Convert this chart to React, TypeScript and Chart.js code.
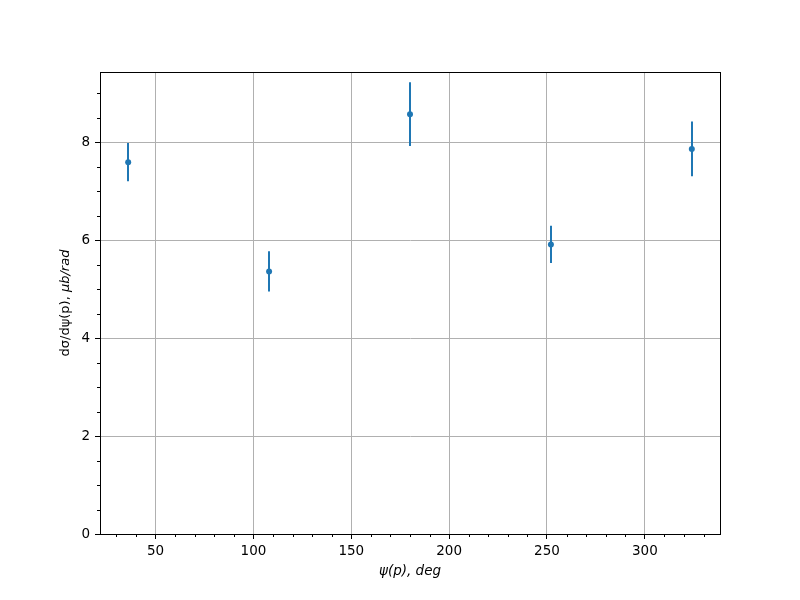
import React, { useEffect, useRef } from "react";
import { Chart, registerables } from "chart.js";

Chart.register(...registerables);

const psiDeg = [36, 108, 180, 252, 324];
const dSigma = [7.59, 5.36, 8.57, 5.91, 7.86];
const dSigmaErr = [0.39, 0.41, 0.65, 0.38, 0.56];

const xTicks = [50, 100, 150, 200, 250, 300];
const xMinorTicks = [30, 40, 60, 70, 80, 90, 110, 120, 130, 140, 160, 170, 180, 190, 210, 220, 230, 240, 260, 270, 280, 290, 310, 320, 330];
const yTicks = [0, 2, 4, 6, 8];
const yMinorTicks = [0.5, 1, 1.5, 2.5, 3, 3.5, 4.5, 5, 5.5, 6.5, 7, 7.5, 8.5, 9];

const xRange = [21.6, 338.4];
const yRange = [0, 9.43];

const BLUE = "#1f77b4";
const FONT = "'DejaVu Sans', sans-serif";

const overlayPlugin = {
  id: "overlay",
  beforeDatasetsDraw(chart: any) {
    const { ctx, scales } = chart;
    const xs = scales.x;
    const ys = scales.y;
    ctx.save();
    ctx.strokeStyle = BLUE;
    ctx.lineWidth = 2;
    for (let i = 0; i < psiDeg.length; i++) {
      const px = Math.round(xs.getPixelForValue(psiDeg[i]));
      ctx.beginPath();
      ctx.moveTo(px, ys.getPixelForValue(dSigma[i] - dSigmaErr[i]));
      ctx.lineTo(px, ys.getPixelForValue(dSigma[i] + dSigmaErr[i]));
      ctx.stroke();
    }
    ctx.restore();
  },
  afterDraw(chart: any) {
    const { ctx, chartArea, scales } = chart;
    const xs = scales.x;
    const ys = scales.y;
    ctx.save();
    ctx.strokeStyle = "#000";
    ctx.lineWidth = 1;
    ctx.beginPath();
    for (const v of xMinorTicks) {
      const px = Math.round(xs.getPixelForValue(v)) + 0.5;
      ctx.moveTo(px, chartArea.bottom);
      ctx.lineTo(px, chartArea.bottom + 3);
    }
    for (const v of yMinorTicks) {
      const py = Math.round(ys.getPixelForValue(v)) + 0.5;
      ctx.moveTo(chartArea.left, py);
      ctx.lineTo(chartArea.left - 3, py);
    }
    ctx.stroke();
    ctx.strokeRect(
      Math.round(chartArea.left) + 0.5,
      Math.round(chartArea.top) + 0.5,
      Math.round(chartArea.right - chartArea.left),
      Math.round(chartArea.bottom - chartArea.top)
    );
    const part1 = "dσ/dψ(p), ";
    const part2 = "μb/rad";
    ctx.fillStyle = "#000";
    ctx.textBaseline = "middle";
    ctx.textAlign = "left";
    const f1 = "13px " + FONT;
    const f2 = "italic 13px " + FONT;
    ctx.font = f1;
    const w1 = ctx.measureText(part1).width;
    ctx.font = f2;
    const w2 = ctx.measureText(part2).width;
    const cx = 66;
    const cy = (chartArea.top + chartArea.bottom) / 2;
    ctx.translate(cx, cy);
    ctx.rotate(-Math.PI / 2);
    const start = -(w1 + w2) / 2;
    ctx.font = f1;
    ctx.fillText(part1, start, 0);
    ctx.font = f2;
    ctx.fillText(part2, start + w1, 0);
    ctx.restore();
  },
};

export default function App() {
  const canvasRef = useRef<HTMLCanvasElement | null>(null);

  useEffect(() => {
    document.body.style.margin = "0";
    const canvas = canvasRef.current;
    if (!canvas) return;
    const chart = new Chart(canvas, {
      type: "scatter",
      data: {
        datasets: [
          {
            data: psiDeg.map((x, i) => ({ x, y: dSigma[i] })),
            backgroundColor: BLUE,
            borderColor: BLUE,
            pointRadius: 3,
            pointBorderWidth: 0,
          },
        ],
      },
      options: {
        animation: false,
        responsive: false,
        devicePixelRatio: 1,
        layout: { padding: { left: 0, right: 80, top: 72, bottom: 20 } },
        plugins: {
          legend: { display: false },
          tooltip: { enabled: false },
        },
        scales: {
          x: {
            type: "linear",
            min: xRange[0],
            max: xRange[1],
            afterBuildTicks: (s: any) => {
              s.ticks = xTicks.map((v) => ({ value: v }));
            },
            afterFit: (s: any) => {
              s.height = 46;
            },
            ticks: {
              color: "#000",
              font: { family: FONT, size: 13.5 },
              padding: 4,
              maxRotation: 0,
              autoSkip: false,
            },
            grid: {
              color: "#b0b0b0",
              lineWidth: 1,
              tickColor: "#000",
              tickLength: 5,
            },
            border: { display: true, color: "#000", width: 1 },
            title: {
              display: true,
              text: "ψ(p), deg",
              color: "#000",
              font: { family: FONT, size: 13.5, style: "italic" },
              padding: { top: 2, bottom: 0 },
            },
          },
          y: {
            type: "linear",
            min: yRange[0],
            max: yRange[1],
            afterBuildTicks: (s: any) => {
              s.ticks = yTicks.map((v) => ({ value: v }));
            },
            afterFit: (s: any) => {
              s.width = 100;
            },
            ticks: {
              color: "#000",
              font: { family: FONT, size: 13.5 },
              padding: 5,
            },
            grid: {
              color: "#b0b0b0",
              lineWidth: 1,
              tickColor: "#000",
              tickLength: 5,
            },
            border: { display: true, color: "#000", width: 1 },
          },
        },
      },
      plugins: [overlayPlugin],
    } as any);
    return () => chart.destroy();
  }, []);

  return (
    <div style={{ width: 800, height: 600, background: "#fff" }}>
      <canvas ref={canvasRef} width={800} height={600} style={{ display: "block" }} />
    </div>
  );
}
